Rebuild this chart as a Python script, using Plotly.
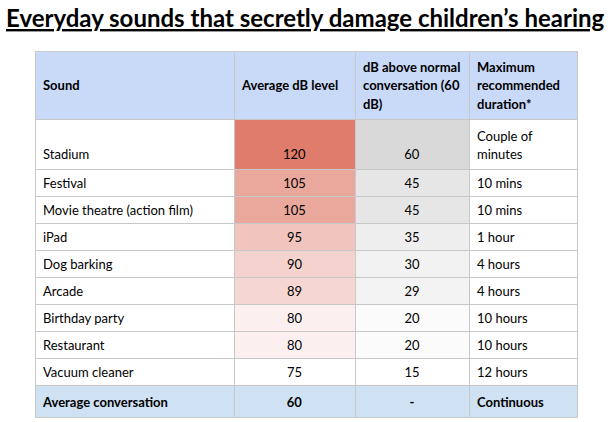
import plotly.graph_objects as go

# table data
sounds = ["Stadium", "Festival", "Movie theatre (action film)", "iPad", "Dog barking",
          "Arcade", "Birthday party", "Restaurant", "Vacuum cleaner"]
avg_db = [120, 105, 105, 95, 90, 89, 80, 80, 75]
above_normal = [60, 45, 45, 35, 30, 29, 20, 20, 15]
durations = ["Couple of<br>minutes", "10 mins", "10 mins", "1 hour", "4 hours",
             "4 hours", "10 hours", "10 hours", "12 hours"]
footer = ["Average conversation", "60", "-", "Continuous"]
headers = ["\u00a0<br>Sound", "\u00a0<br>Average dB level",
           "dB above normal<br>conversation (60<br>dB)",
           "Maximum<br>recommended<br>duration*"]

BIG = 14.1   # font size that sets the line spacing of multi-line rows
TXT = 13     # glyph size actually shown


def scale(vals, top):
    # linear colour scale: min value -> white, max value -> top colour
    lo, hi = min(vals), max(vals)
    out = []
    for v in vals:
        t = (v - lo) / (hi - lo)
        r, g, b = [round(255 - t * (255 - c)) for c in top]
        out.append(f"rgb({r},{g},{b})")
    return out


def small(s, bold=False):
    parts = [f"<b>{p}</b>" if bold else p for p in s.split("<br>")]
    return "<br>".join(f'<span style="font-size:{TXT}px">{p}</span>' for p in parts)


foot_bg = "#cfe2f3"
red_fill = scale(avg_db, (223, 124, 107)) + [foot_bg]
grey_fill = scale(above_normal, (217, 217, 217)) + [foot_bg]
white_fill = ["white"] * len(sounds) + [foot_bg]

first = [sounds[0], str(avg_db[0]), str(above_normal[0]), durations[0]]
rest = [sounds[1:], [str(v) for v in avg_db[1:]], [str(v) for v in above_normal[1:]], durations[1:]]
cols, sizes = [], []
for i in range(4):
    # two-line first row: single-line cells sit on the lower line
    top = first[i] if "<br>" in first[i] else "\u00a0<br>" + first[i]
    cols.append([small(top)] + rest[i] + [f"<b>{footer[i]}</b>"])
    sizes.append([BIG] + [TXT] * (len(rest[i]) + 1))

fig = go.Figure(go.Table(
    domain=dict(x=[35 / 610, 577 / 610], y=[0, 1 - 51 / 422]),
    columnwidth=[199, 121, 114, 108],
    header=dict(
        values=[small(h, bold=True) for h in headers],
        fill_color="#c9daf8",
        line=dict(color="#c8c8c8", width=1),
        align="left",
        font=dict(family="Lato", size=BIG, color="#000000"),
        height=27,
    ),
    cells=dict(
        values=cols,
        fill_color=[white_fill, red_fill, grey_fill, white_fill],
        line=dict(color="#c8c8c8", width=1),
        align=["left", "center", "center", "left"],
        font=dict(family="Lato", size=TXT, color="#000000"),
        height=27,
    ),
))
# plotly.js takes a per-cell font size grid; the python validator only allows 1-D
fig._data[0]["cells"]["font"]["size"] = sizes

fig.add_annotation(
    text="<b><u>Everyday sounds that secretly damage children’s hearing</u></b>",
    x=0.5, y=1 - 1 / 422, xref="paper", yref="paper",
    xanchor="center", yanchor="top", showarrow=False,
    font=dict(family="Lato", size=24, color="#000000"),
)

fig.update_layout(
    width=610, height=422,
    margin=dict(l=0, r=0, t=0, b=0),
    paper_bgcolor="white",
)

fig.write_html("out.html", config={"displayModeBar": False},
               post_script="document.body.style.margin='0';")
